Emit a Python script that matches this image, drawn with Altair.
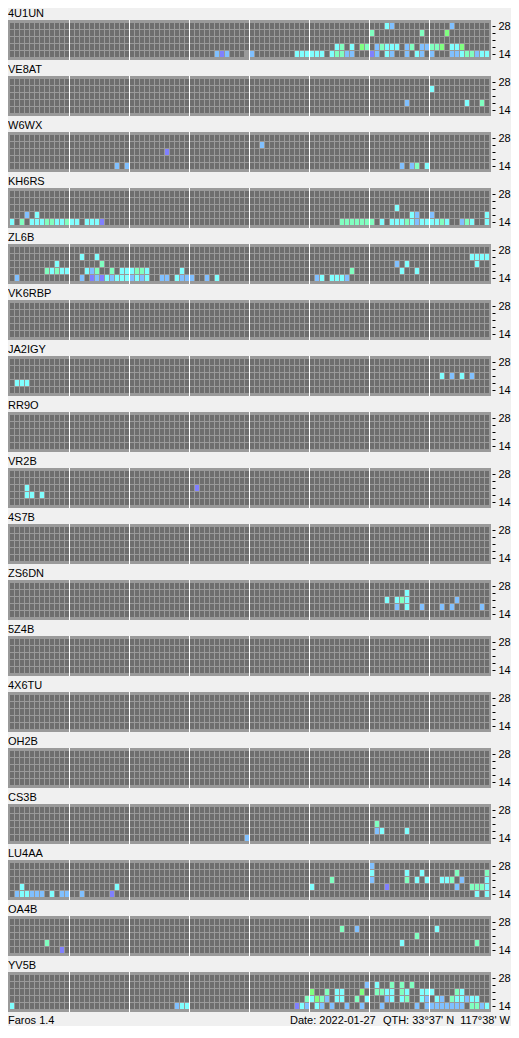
import altair as alt
import pandas as pd

BEACONS = ["4U1UN", "VE8AT", "W6WX", "KH6RS", "ZL6B", "VK6RBP", "JA2IGY", "RR9O",
           "VR2B", "4S7B", "ZS6DN", "5Z4B", "4X6TU", "OH2B", "CS3B", "LU4AA", "OA4B", "YV5B"]
BANDS = [28, 24, 21, 18, 14]          # rows, top to bottom
N_SLOTS = 96                          # 15-minute slots in a day
SEGMENT = 12                          # slots between white separators (3 h)

# heard slots per beacon, one string per band (28, 24, 21, 18, 14): "<slot><code>"
# C cyan, B light blue, P violet, A aquamarine, G green, X no data
SPOTS = {
    "4U1UN": ["75C 76B 88B",
              "72A 82A 87G",
              "",
              "65C 66A 68C 70G 71A 73B 74A 75C 76C 77C 79B 80A 82B 83B 84A 85A 86G 88C 89C 90G",
              "41B 42P 43B 47X 48B 57C 58C 59C 60C 61C 62C 64C 65A 66A 67B 68B 72P 73B 75C 76B "
              "79B 81C 82B 84B 88B 89B 90C 91A 92A 93B 94C 95C"],
    "VE8AT": ["", "84C", "", "79B 91C 94A", ""],
    "W6WX": ["", "50B", "31P", "", "21B 23B 78B 80B 81A 83C"],
    "KH6RS": ["", "", "77C",
              "3B 5C 80C 81B 84B 95C",
              "0C 2A 4C 5C 6C 7A 8A 9C 10C 11A 12C 13C 15C 16C 17C 18P 66A 67A 68A 69A 70A 71A "
              "72A 74C 76C 77C 78C 79A 80C 81B 82C 83C 84C 85C 86A 87C 90B 91A 92C 95C"],
    "ZL6B": ["",
             "14C 17C 92C 93C 94C 95C",
             "9C 18A 77B 79C 93C",
             "7A 8C 9A 10C 11C 15C 16B 17A 20A 22C 23C 24C 25A 26A 27C 34C 68A 78C 81C",
             "1B 14B 16P 17B 18P 19C 20B 21C 22C 23C 24B 25C 26B 27C 30B 31B 33C 34B 35B 36B "
             "39B 41C 61B 62C 64C 65C 66C 67B"],
    "JA2IGY": ["", "", "86C 88B 90C 92B", "1C 2C 3C", ""],
    "VR2B": ["", "", "3C 37P", "3C 4C 6C", ""],
    "ZS6DN": ["", "79C", "75C 77C 78A 79C 89B", "77B 79C 82B 86B 88B 94B", ""],
    "CS3B": ["", "", "73A", "73B 74C 79C", "47B"],
    "LU4AA": ["72B",
              "72C 79C 82C 89A 95A",
              "64A 72B 79A 81C 83C 86C 87C 88A 90B 95C",
              "2C 21C 60C 75P 89B 92A 93A 94A 95C",
              "1B 2C 3C 4B 5B 6B 8C 10B 11B 14B 20P 93C 95C"],
    "OA4B": ["", "66A 69B 85C", "81A", "7A 78C 93A", "10P"],
    "YV5B": ["",
             "71B 73C 76A 78A 80A",
             "60G 63A 65C 66C 70G 73A 74A 75C 76C 78A 79C 82C 83C 84C 89A 90C",
             "59A 60C 61G 62A 63B 65C 66C 69A 71C 75B 76C 78C 79A 82C 83B 85C 86B 88A 89C 90C "
             "91B 92C 93C",
             "0C 33B 34C 35C 57P 58C 59B 61C 62B 64B 67B 70B 74B 81B 83B 84B 85B 86B 87B 88B "
             "89B 90B 92A 93A 94B 95C"],
}

FOOTER_LEFT = "Faros 1.4"
FOOTER_DATE = "Date: 2022-01-27"
FOOTER_QTH = "QTH: 33\u00b037' N\u00a0\u00a0117\u00b038' W"

STATUS_DOMAIN = ["none", "C", "B", "P", "A", "G", "X"]
STATUS_COLORS = ["#6e6e6e", "#80ffff", "#80c0ff", "#8080ff", "#80ffc0", "#80ff80", "#9a9a9a"]
PANEL_COLOR = "#9a9a9a"
BG = "#f0f0f0"
FONT = "Liberation Sans"

# ---- layout (row units: one band row = 7 px, one panel = 8 rows) ----
W = 483
H = 1018
ROW_PX = 7
PANEL_ROWS = 8
TOP_PX = 15
Y_DOMAIN = [-TOP_PX / ROW_PX, (H - TOP_PX) / ROW_PX]
X_DOMAIN = [-0.4, 96.2]

cells, panels, seps, ticks = [], [], [], []
for i, name in enumerate(BEACONS):
    spot = SPOTS.get(name, [""] * 5)
    base = i * PANEL_ROWS
    panels.append({"beacon": name, "s": base - 3 / 7, "s2": base + 37 / 7})
    for k in range(1, N_SLOTS // SEGMENT):
        seps.append({"slot": k * SEGMENT - 0.1, "s": base - 3 / 7, "s2": base + 37 / 7})
    for r, band in enumerate(BANDS):
        ticks.append(base + r + 3 / 7)
        codes = {int(it[:-1]): it[-1] for it in spot[r].split()}
        for c in range(N_SLOTS):
            cells.append({"beacon": name, "band": band, "slot": c, "slot2": c + 0.8,
                          "s": base + r, "s2": base + r + 6 / 7,
                          "status": codes.get(c, "none")})

cells = pd.DataFrame(cells)
panels = pd.DataFrame(panels)
seps = pd.DataFrame(seps)

xs = alt.Scale(domain=X_DOMAIN, nice=False, zero=False)
ys = alt.Scale(domain=Y_DOMAIN, nice=False, zero=False, reverse=True)
yaxis = alt.Axis(orient="right", values=ticks, title=None, domain=False, grid=False,
                 tickSize=3, tickColor="black", offset=1, labelPadding=3,
                 labelFont=FONT, labelFontSize=11, labelColor="black",
                 labelOverlap=False, labelFlush=False, labelBound=False,
                 labelExpr="(round(datum.value - 0.4286) % 8) == 0 ? '28' : "
                           "((round(datum.value - 0.4286) % 8) == 4 ? '14' : '')")

bg = alt.Chart(panels).mark_rect(color=PANEL_COLOR).encode(
    x=alt.datum(X_DOMAIN[0], scale=xs, axis=None),
    x2=alt.datum(X_DOMAIN[1]),
    y=alt.Y("s:Q", scale=ys, axis=yaxis),
    y2="s2:Q",
)

cell_layer = alt.Chart(cells).mark_rect().encode(
    x=alt.X("slot:Q", scale=xs, axis=None),
    x2="slot2:Q",
    y=alt.Y("s:Q", scale=ys, axis=yaxis),
    y2="s2:Q",
    color=alt.Color("status:N", scale=alt.Scale(domain=STATUS_DOMAIN, range=STATUS_COLORS),
                    legend=None),
)

sep_layer = alt.Chart(seps).mark_rule(color="white", strokeWidth=1).encode(
    x=alt.X("slot:Q", scale=xs, axis=None),
    y=alt.Y("s:Q", scale=ys, axis=yaxis),
    y2="s2:Q",
)

titles = alt.Chart(panels).mark_text(
    align="left", baseline="alphabetic", dy=-3, font=FONT, fontSize=11, color="black"
).encode(
    x=alt.value(0),
    y=alt.Y("s:Q", scale=ys, axis=yaxis),
    text="beacon:N",
)

footer_df = pd.DataFrame({"t": [0]})
foot1 = alt.Chart(footer_df).mark_text(align="left", baseline="alphabetic", font=FONT,
                                       fontSize=11, color="black", text=FOOTER_LEFT).encode(
    x=alt.value(0), y=alt.value(H - 2))
foot2 = alt.Chart(footer_df).mark_text(align="left", baseline="alphabetic", font=FONT,
                                       fontSize=11, color="black", text=FOOTER_DATE).encode(
    x=alt.value(282), y=alt.value(H - 2))
foot3 = alt.Chart(footer_df).mark_text(align="right", baseline="alphabetic", font=FONT,
                                       fontSize=11, color="black", text=FOOTER_QTH).encode(
    x=alt.value(W + 19), y=alt.value(H - 2))

chart = alt.layer(bg, cell_layer, sep_layer, titles, foot1, foot2, foot3).properties(
    width=W, height=H,
    padding={"left": 0, "top": 0, "right": 20, "bottom": 0},
    autosize=alt.AutoSizeParams(type="none"),
    background=BG,
).configure_view(strokeWidth=0)

chart.save("out.html", embed_options={"renderer": "svg", "actions": False})
